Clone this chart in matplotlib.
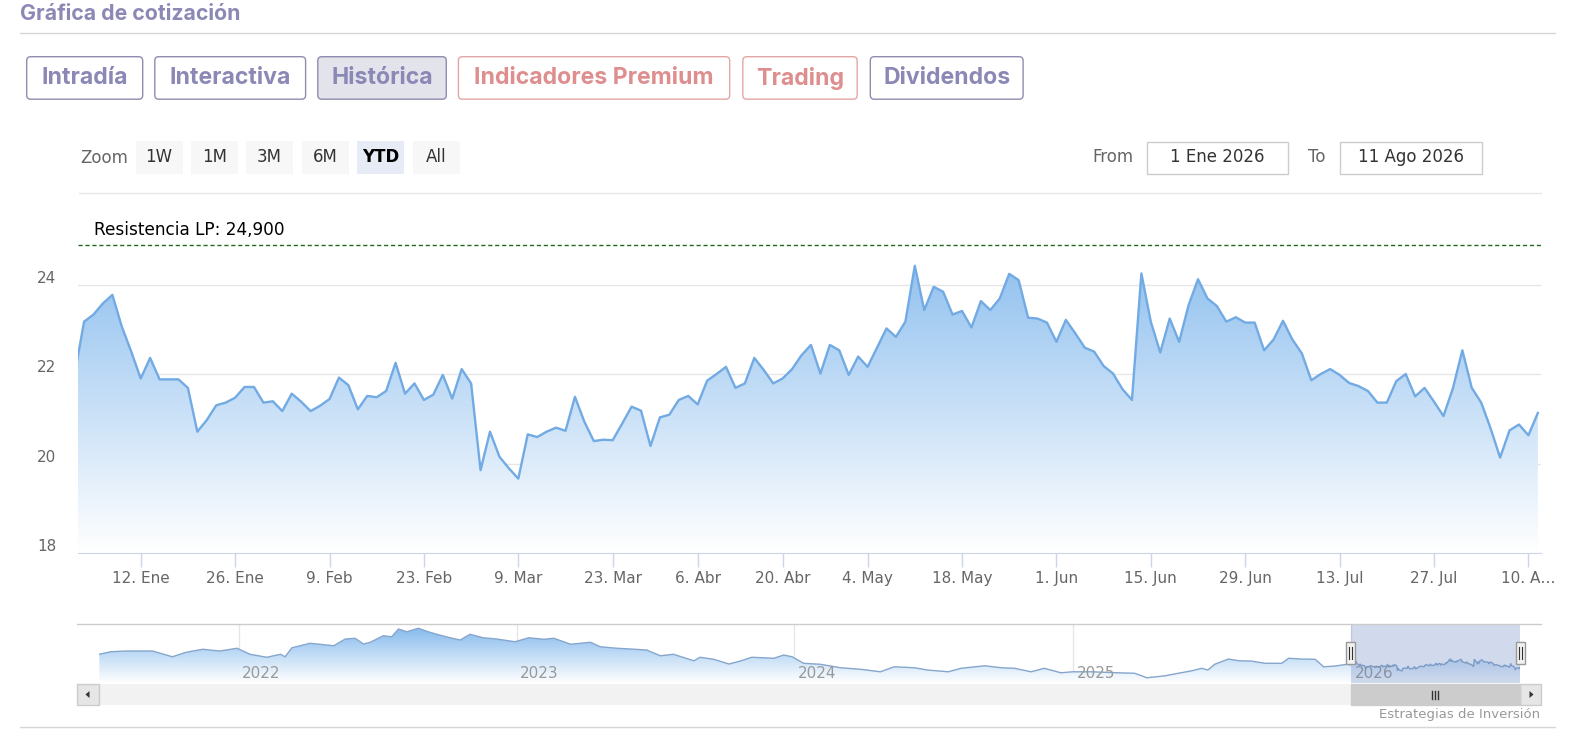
import numpy as np
import pandas as pd
import matplotlib
matplotlib.use('Agg')
import matplotlib.pyplot as plt
import matplotlib.dates as mdates
from matplotlib.colors import LinearSegmentedColormap
from matplotlib.patches import FancyBboxPatch, Rectangle, Polygon
from matplotlib.transforms import ScaledTranslation

W, H = 1587, 755

# daily closes, trading days 2 Jan - 11 Aug 2026 (ordinal axis)
prev_close = 22.0   # 31 Dec 2025, drawn just off the left edge
closes = [
    23.18, 23.34, 23.59, 23.78, 23.07, 22.51, 21.91, 22.37, 21.89, 21.89,
    21.89, 21.70, 20.72, 20.98, 21.31, 21.37, 21.48, 21.72, 21.72, 21.37,
    21.40, 21.18, 21.57, 21.39, 21.18, 21.30, 21.45, 21.93, 21.76, 21.22,
    21.52, 21.49, 21.63, 22.26, 21.57, 21.80, 21.43, 21.55, 21.99, 21.46,
    22.12, 21.80, 19.86, 20.72, 20.16, 19.90, 19.67, 20.66, 20.60, 20.72,
    20.81, 20.74, 21.50, 20.94, 20.51, 20.54, 20.53, 20.90, 21.28, 21.19,
    20.40, 21.04, 21.10, 21.43, 21.52, 21.33, 21.86, 22.01, 22.17, 21.70,
    21.80, 22.37, 22.10, 21.80, 21.91, 22.12, 22.43, 22.66, 22.02, 22.66,
    22.54, 21.99, 22.40, 22.17, 22.60, 23.03, 22.84, 23.18, 24.43, 23.44,
    23.96, 23.85, 23.34, 23.42, 23.05, 23.64, 23.44, 23.70, 24.25, 24.11,
    23.27, 23.25, 23.16, 22.73, 23.22, 22.92, 22.60, 22.51, 22.19, 22.02,
    21.67, 21.43, 24.26, 23.18, 22.49, 23.25, 22.73, 23.55, 24.13, 23.70,
    23.53, 23.18, 23.28, 23.16, 23.16, 22.54, 22.78, 23.20, 22.78, 22.47,
    21.87, 22.01, 22.12, 21.99, 21.81, 21.74, 21.63, 21.37, 21.37, 21.85,
    22.01, 21.51, 21.70, 21.39, 21.07, 21.69, 22.54, 21.70, 21.37, 20.79,
    20.14, 20.75, 20.88, 20.64, 21.14,
]
holidays = ['2026-04-03', '2026-04-06', '2026-05-01']

tick_dates = ['2026-01-12', '2026-01-26', '2026-02-09', '2026-02-23', '2026-03-09',
              '2026-03-23', '2026-04-06', '2026-04-20', '2026-05-04', '2026-05-18',
              '2026-06-01', '2026-06-15', '2026-06-29', '2026-07-13', '2026-07-27',
              '2026-08-10']
tick_labels = ['12. Ene', '26. Ene', '9. Feb', '23. Feb', '9. Mar', '23. Mar', '6. Abr',
               '20. Abr', '4. May', '18. May', '1. Jun', '15. Jun', '29. Jun', '13. Jul',
               '27. Jul', '10. A\u2026']
y_ticks = [18, 20, 22, 24]

resistance = 24.9
resistance_label = 'Resistencia LP: 24,900'

# navigator history (before 2026)
nav_dates = [
    '2021-07-02', '2021-07-17', '2021-08-06', '2021-09-10', '2021-10-06', '2021-10-24',
    '2021-11-15', '2021-12-07', '2021-12-30', '2022-01-16', '2022-02-07', '2022-02-25',
    '2022-03-03', '2022-03-12', '2022-04-05', '2022-05-06', '2022-05-21', '2022-06-03',
    '2022-06-14', '2022-06-23', '2022-07-10', '2022-07-21', '2022-07-30', '2022-08-10',
    '2022-08-25', '2022-09-07', '2022-09-18', '2022-10-03', '2022-10-19', '2022-11-01',
    '2022-11-18', '2022-12-06', '2022-12-30', '2023-01-17', '2023-02-06', '2023-02-19',
    '2023-03-13', '2023-04-08', '2023-04-21', '2023-05-13', '2023-05-31', '2023-06-21',
    '2023-07-09', '2023-07-26', '2023-08-22', '2023-08-30', '2023-09-17', '2023-10-07',
    '2023-10-22', '2023-11-06', '2023-11-22', '2023-12-05', '2023-12-18', '2023-12-29',
    '2024-01-13', '2024-02-04', '2024-03-02', '2024-03-28', '2024-04-23', '2024-05-11',
    '2024-06-07', '2024-06-24', '2024-07-21', '2024-08-07', '2024-09-07', '2024-09-29',
    '2024-10-16', '2024-11-07', '2024-11-24', '2024-12-16', '2024-12-31', '2025-01-25',
    '2025-03-01', '2025-03-23', '2025-04-08', '2025-05-02', '2025-05-19', '2025-06-06',
    '2025-06-19', '2025-06-27', '2025-07-06', '2025-07-24', '2025-08-07', '2025-08-23',
    '2025-09-10', '2025-10-02', '2025-10-11', '2025-10-28', '2025-11-15', '2025-11-26',
    '2025-12-11', '2025-12-29',
]
nav_values = [
    26.3, 27.3, 27.6, 27.6, 25.3, 27.1, 28.3, 27.6, 28.7, 26.3, 25.1, 26.3,
    25.3, 28.9, 30.7, 29.7, 32.4, 32.7, 30.4, 31.1, 33.7, 33.3, 36.4, 35.3,
    36.7, 35.3, 34.3, 33.1, 32.0, 34.3, 32.9, 32.4, 31.3, 32.9, 32.3, 32.7,
    30.3, 31.1, 29.3, 28.7, 28.4, 28.0, 25.7, 26.3, 23.7, 25.1, 24.3, 22.4,
    23.6, 25.1, 24.9, 24.7, 26.0, 25.3, 22.7, 22.3, 20.9, 20.3, 19.3, 21.3,
    20.9, 20.0, 19.3, 20.7, 21.7, 20.9, 20.7, 19.3, 20.7, 18.9, 19.3, 19.3,
    18.9, 18.7, 16.9, 17.7, 18.7, 19.7, 20.7, 20.0, 22.3, 24.4, 23.7, 23.6,
    22.7, 22.7, 24.7, 24.4, 24.3, 21.3, 21.6, 22.4,
]
nav_years = [2022, 2023, 2024, 2025, 2026]

tabs = ['Intradía', 'Interactiva', 'Histórica', 'Indicadores Premium', 'Trading', 'Dividendos']
range_buttons = ['1W', '1M', '3M', '6M', 'YTD', 'All']
from_text = '1 Ene 2026'
to_text = '11 Ago 2026'

BLUE = '#7cb5ec'
LINE = '#72aae3'
PURPLE = '#8b88b6'
SALMON = '#de8e8e'
NARROW = ['Liberation Sans Narrow', 'DejaVu Sans']


def box(x0, y0, x1, y1):
    # pixel box (y from top) -> figure fraction rect
    return [x0 / W, 1 - y1 / H, (x1 - x0) / W, (y1 - y0) / H]


days = pd.bdate_range('2026-01-02', '2026-08-11')
days = days[~days.isin(pd.to_datetime(holidays))]
assert len(days) == len(closes)

fig = plt.figure(figsize=(W / 100, H / 100), dpi=100)
fig.patch.set_facecolor('white')

ui = fig.add_axes([0, 0, 1, 1], zorder=0)
ui.set_xlim(0, W)
ui.set_ylim(H, 0)
ui.axis('off')

# ---- header ----
ui.text(20.5, 13.5, 'Gráfica de cotización', color=PURPLE, fontsize=15.3, fontweight='bold',
        family='Inter', va='center', ha='left')
ui.plot([20, 1555], [33.4, 33.4], color='#d6d6d6', lw=1)

tab_x = [(26.7, 142.7), (154.8, 305.6), (317.8, 446.3), (458.4, 729.7), (742.8, 857.2),
         (870.3, 1023.1)]
for name, (x0, x1) in zip(tabs, tab_x):
    red = name in ('Indicadores Premium', 'Trading')
    edge = '#e2a6a6' if red else '#8f8cae'
    face = '#e3e3ec' if name == 'Histórica' else 'white'
    ui.add_patch(FancyBboxPatch((x0, 56.7), x1 - x0, 42.5, boxstyle='round,pad=0,rounding_size=4',
                                fc=face, ec=edge, lw=1))
    ui.text((x0 + x1) / 2, 78.5, name, color=SALMON if red else PURPLE, fontsize=16.6,
            fontweight='bold', family='Inter', ha='center', va='center')

# ---- range selector ----
ui.text(103.7, 158, 'Zoom', color='#666666', fontsize=12, family=NARROW, ha='center', va='center')
btn_x = [135.6, 191.3, 245.9, 301.6, 357.2, 412.9]
for name, x0 in zip(range_buttons, btn_x):
    sel = name == 'YTD'
    ui.add_patch(Rectangle((x0, 140.7), 47, 33.4, fc='#e6ebf5' if sel else '#f7f7f7', ec='none'))
    ui.text(x0 + 23.5, 157.5, name, color='black' if sel else '#333333', fontsize=12,
            fontweight='bold' if sel else 'normal', family=NARROW, ha='center', va='center')

ui.text(1113.3, 157.5, 'From', color='#666666', fontsize=12, family=NARROW, ha='center', va='center')
ui.text(1317, 157.5, 'To', color='#666666', fontsize=12, family=NARROW, ha='center', va='center')
for txt, x0, x1 in [(from_text, 1146.6, 1288.3), (to_text, 1339.9, 1481.6)]:
    ui.add_patch(Rectangle((x0, 141.7), x1 - x0, 32.3, fc='white', ec='#cccccc', lw=1))
    ui.text((x0 + x1) / 2, 157.5, txt, color='#333333', fontsize=12, family=NARROW,
            ha='center', va='center')
ui.plot([79, 1540.7], [193.3, 193.3], color='#e6e6e6', lw=1)

# ---- main chart ----
ax = fig.add_axes(box(78.3, 205, 1540.7, 553.3), zorder=5)
xs = np.arange(-1, len(closes))
ys = np.array([prev_close] + closes)
xlim = (-0.61, 154.3)
ylim = (18, 25.79)

grad = np.linspace(1, 0, 256).reshape(-1, 1)
cmap = LinearSegmentedColormap.from_list('fade', ['#ffffff', BLUE])
im = ax.imshow(grad, extent=[xlim[0], xlim[1], ylim[0], ylim[1]], aspect='auto',
               cmap=cmap, vmin=0, vmax=1, zorder=1, interpolation='bilinear')
fill = ax.fill_between(xs, ys, ylim[0], facecolor='none', edgecolor='none')
im.set_clip_path(fill.get_paths()[0], transform=ax.transData)
ax.plot(xs, ys, color=LINE, lw=1.7, zorder=3, solid_joinstyle='round')

ax.axhline(resistance, color='#1f6b1f', lw=1, ls=(0, (3, 2)), zorder=4)
ax.text(-0.61 + 15.7 / 9.44, resistance + 0.13, resistance_label, fontsize=12.2, color='black',
        family='DejaVu Sans', va='bottom', ha='left')

ax.set_xlim(*xlim)
ax.set_ylim(*ylim)
ax.set_yticks(y_ticks)
ax.set_yticklabels([str(v) for v in y_ticks])
ax.grid(axis='y', color='#e6e6e6', lw=1)
ax.set_axisbelow(True)
tick_pos = days.searchsorted(pd.to_datetime(tick_dates))
ax.set_xticks(tick_pos)
ax.set_xticklabels(tick_labels)
for s in ['top', 'right', 'left']:
    ax.spines[s].set_visible(False)
ax.spines['bottom'].set_color('#ccd6eb')
ax.tick_params(axis='x', length=10, width=1, color='#ccd6eb', labelcolor='#666666',
               labelsize=11, pad=2.5)
ax.tick_params(axis='y', length=0, labelcolor='#666666', labelsize=11, pad=16)
for lab in ax.get_yticklabels():
    lab.set_transform(lab.get_transform() + ScaledTranslation(0, 0.08, fig.dpi_scale_trans))

# ---- navigator ----
nav_x0, nav_x1 = 99.3, 1520.0
nav = fig.add_axes(box(nav_x0, 624, nav_x1, 683.3), zorder=5)
nd = list(pd.to_datetime(nav_dates)) + [pd.Timestamp('2025-12-31')] + list(days)
nv = np.array(nav_values + [prev_close] + closes)
nnum = mdates.date2num(nd)
nylim = (14.7, 38.4)
nim = nav.imshow(grad, extent=[nnum[0], nnum[-1], nylim[0], nylim[1]], aspect='auto',
                 cmap=cmap, vmin=0, vmax=1, zorder=1, interpolation='bilinear')
nfill = nav.fill_between(nnum, nv, nylim[0], facecolor='none', edgecolor='none')
nim.set_clip_path(nfill.get_paths()[0], transform=nav.transData)
nav.plot(nnum, nv, color='#86a6cc', lw=1, zorder=3)
for yr in nav_years:
    xd = mdates.date2num(pd.Timestamp(f'{yr}-01-01'))
    nav.axvline(xd, color='#e6e6e6', lw=1, zorder=0)
    nav.annotate(str(yr), xy=(xd, 0.17), xycoords=('data', 'axes fraction'), xytext=(2.5, 0),
                 textcoords='offset points', fontsize=11, color='#999999', family=NARROW,
                 va='center', ha='left', zorder=4)
nav.set_xlim(nnum[0], nnum[-1])
nav.set_ylim(*nylim)
nav.axis('off')

# ---- navigator overlay: mask, handles, scrollbar ----
fg = fig.add_axes([0, 0, 1, 1], zorder=10)
fg.set_xlim(0, W)
fg.set_ylim(H, 0)
fg.axis('off')


def nav_px(d):
    return nav_x0 + (mdates.date2num(pd.Timestamp(d)) - nnum[0]) / (nnum[-1] - nnum[0]) * (nav_x1 - nav_x0)


sx0, sx1 = nav_px('2026-01-01'), nav_px(days[-1])
fg.plot([77.3, 1540.7], [624, 624], color='#cccccc', lw=1)
fg.add_patch(Rectangle((sx0, 624), sx1 - sx0, 59.3, fc='#6685c2', alpha=0.3, ec='none'))
fg.add_patch(Rectangle((77.3, 684), 1463.4, 21, fc='#f2f2f2', ec='none'))
fg.add_patch(Rectangle((77.3, 684), 22, 21, fc='#e6e6e6', ec='#cccccc', lw=1))
fg.add_patch(Rectangle((1519.5, 684), 21.2, 21, fc='#e6e6e6', ec='#cccccc', lw=1))
fg.add_patch(Polygon([[85.5, 694.5], [89.5, 691], [89.5, 698]], fc='#333333', ec='none'))
fg.add_patch(Polygon([[1533.5, 694.5], [1529.5, 691], [1529.5, 698]], fc='#333333', ec='none'))
fg.add_patch(Rectangle((sx0, 684), sx1 - sx0, 21, fc='#cccccc', ec='#cccccc', lw=1))
cx = (sx0 + sx1) / 2
for dx in (-3, 0, 3):
    fg.plot([cx + dx, cx + dx], [690.5, 698.5], color='#333333', lw=1)
for hx in (sx0, sx1):
    fg.add_patch(Rectangle((hx - 4.5, 641.7), 9, 22.6, fc='#f2f2f2', ec='#999999', lw=1))
    for dx in (-1.5, 1.5):
        fg.plot([hx + dx, hx + dx], [647, 659], color='#333333', lw=0.8)

fg.text(1540, 714.5, 'Estrategias de Inversión', color='#999999', fontsize=9.5, family=NARROW,
        ha='right', va='center')
fg.plot([20, 1555], [727.3, 727.3], color='#d6d6d6', lw=1)

fig.savefig('out.png', dpi=100, facecolor='white')
